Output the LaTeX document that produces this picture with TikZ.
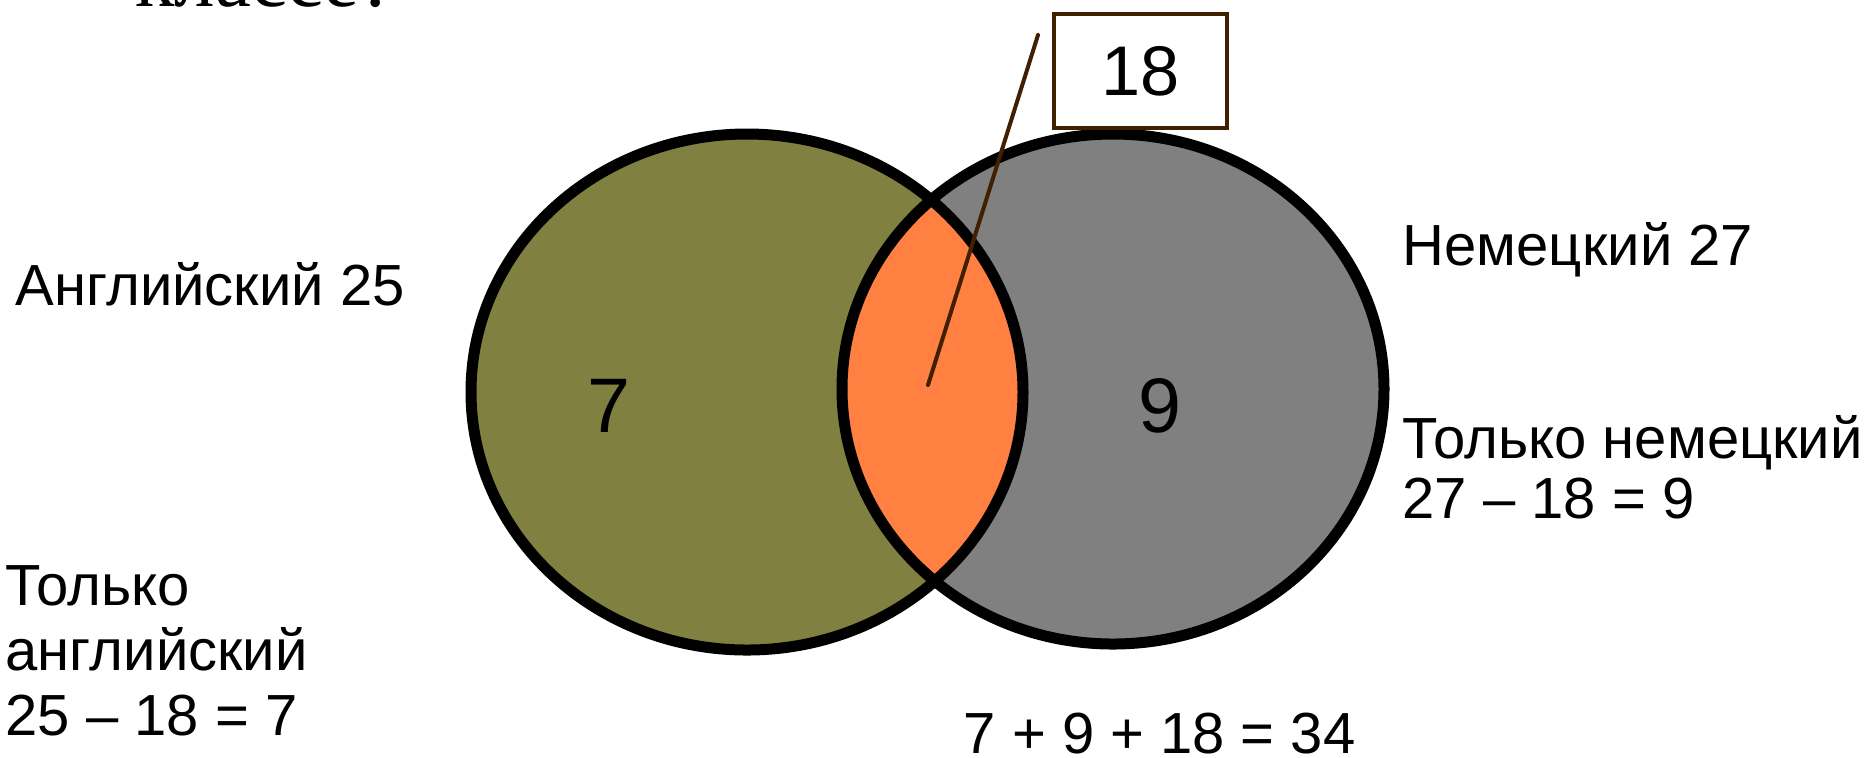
\documentclass[tikz,border=0pt]{standalone}
\usepackage{fontspec}
\setmainfont{Liberation Sans}
\newfontfamily\titlefont{Liberation Serif}
\definecolor{engfill}{RGB}{128,128,64}
\definecolor{deufill}{RGB}{128,128,128}
\definecolor{bothfill}{RGB}{255,128,64}
\definecolor{stemcol}{RGB}{64,32,0}

\begin{document}
\begin{tikzpicture}[x=0.1mm,y=-0.1mm,line cap=round,
  lbl/.style={font=\fontsize{16.5}{18}\selectfont,inner sep=0pt,anchor=base west},
  num/.style={font=\fontsize{22}{24}\selectfont,inner sep=0pt,anchor=base}]
  \useasboundingbox (0,0) rectangle (1874,757);
  \clip (0,0) rectangle (1874,757);
  \node[inner sep=0pt,anchor=base west,font=\titlefont\fontsize{23}{24}\selectfont] (title) at (135,6) {классе?};

  \coordinate (engset) at (747,392);
  \coordinate (deuset) at (1113,389);
  \fill[engfill] (engset) ellipse [x radius=276,y radius=258];
  \fill[deufill] (deuset) ellipse [x radius=271,y radius=255];
  \begin{scope}
    \clip (engset) ellipse [x radius=276,y radius=258];
    \fill[bothfill] (deuset) ellipse [x radius=271,y radius=255];
  \end{scope}
  \draw[line width=1.1mm] (engset) ellipse [x radius=276,y radius=258];
  \draw[line width=1.1mm] (deuset) ellipse [x radius=271,y radius=255];

  \node[num] (engcount) at (609,432) {7};
  \node[num] (deucount) at (1160,432) {9};

  \coordinate (lens) at (928,385);
  \coordinate (tail) at (1038,35);
  \draw[stemcol,line width=0.4mm] (tail) -- (lens);
  \node[draw=stemcol,line width=0.4mm,fill=white,inner sep=0pt,
    minimum width=17.3mm,minimum height=11.4mm,font=\fontsize{20}{22}\selectfont] (common) at (1140.5,71) {18};

  \node[lbl] (engname) at (15,305) {Английский 25};
  \node[lbl] (deuname) at (1402,265) {Немецкий 27};
  \node[lbl] (deuonly) at (1402,458) {Только немецкий};
  \node[lbl] (deucalc) at (1402,518) {27 – 18 = 9};
  \node[lbl] (engonly) at (5,605) {Только};
  \node[lbl] (engonly2) at (5,670) {английский};
  \node[lbl] (engcalc) at (5,735) {25 – 18 = 7};
  \node[lbl] (total) at (963,753) {7 + 9 + 18 = 34};
\end{tikzpicture}
\end{document}
